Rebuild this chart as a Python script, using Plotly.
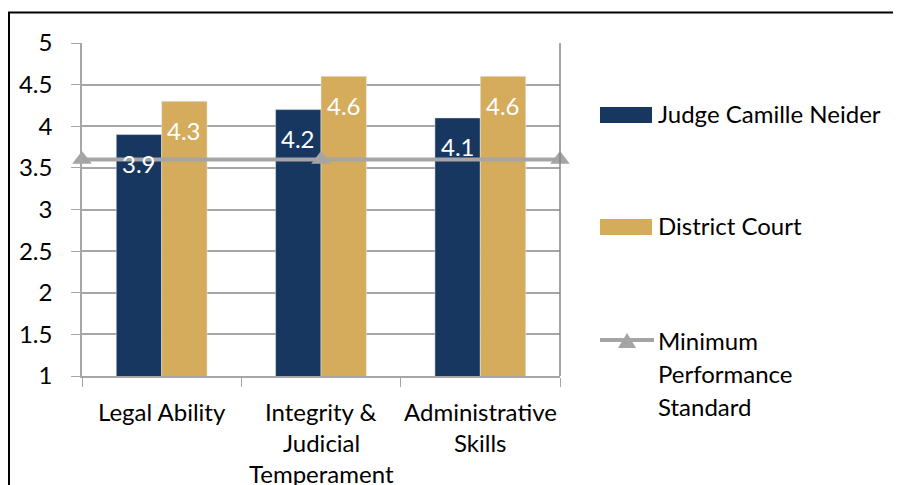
import plotly.graph_objects as go

categories = ["Legal Ability", "Integrity &<br>Judicial<br>Temperament", "Administrative<br>Skills"]
judge_values = [3.9, 4.2, 4.1]
district_values = [4.3, 4.6, 4.6]
min_standard = [3.6, 3.6, 3.6]
series_names = ["Judge Camille Neider", "District Court", "Minimum<br>Performance<br>Standard"]
y_ticks = [1, 1.5, 2, 2.5, 3, 3.5, 4, 4.5, 5]

NAVY = "#183760"
GOLD = "#D5AC5C"
GREY = "#A5A5A5"
FONT = "Lato, Carlito, Calibri, sans-serif"
FS = 24

# page body margin offsets the figure by 8px
OFF = 8
PL, PT, PW, PH = 82, 43, 478, 333  # plot area in page pixels

fig = go.Figure()
fig.add_trace(go.Bar(x=categories, y=judge_values, name=series_names[0], marker_color=NAVY,
                     showlegend=False, hoverinfo="skip"))
fig.add_trace(go.Bar(x=categories, y=district_values, name=series_names[1], marker_color=GOLD,
                     showlegend=False, hoverinfo="skip"))
fig.add_trace(go.Scatter(x=list(range(len(min_standard))), y=min_standard, xaxis="x2",
                         name=series_names[2], mode="lines+markers",
                         line=dict(color=GREY, width=4),
                         marker=dict(symbol="triangle-up", size=17, color=GREY),
                         cliponaxis=False, showlegend=False, hoverinfo="skip"))

# data labels (inside end)
bar_half = 22.75
for vals, sh in ((judge_values, -bar_half), (district_values, bar_half)):
    for c, v in zip(categories, vals):
        fig.add_annotation(x=c, y=v, xref="x", yref="y", text=f"{v:.1f}", showarrow=False,
                           xshift=sh, yshift=-29, yanchor="middle",
                           font=dict(family=FONT, size=FS, color="white"))

# category labels with wide line spacing
for c in categories:
    for i, line in enumerate(c.split("<br>")):
        fig.add_annotation(x=c, y=0, xref="x", yref="paper", text=line, showarrow=False,
                           yshift=-35 - 31 * i, yanchor="middle",
                           font=dict(family=FONT, size=FS, color="black"))

# manual legend (positions in page pixels converted to paper units)
def px_x(p):
    return (p - PL) / PW
def px_y(p):
    return (PT + PH - p) / PH

leg_y = [115, 227, 340]
for name, col, yc in ((series_names[0], NAVY, leg_y[0]), (series_names[1], GOLD, leg_y[1])):
    fig.add_shape(type="rect", xref="paper", yref="paper", x0=px_x(600), x1=px_x(652),
                  y0=px_y(yc + 8), y1=px_y(yc - 8), fillcolor=col, line_width=0)
    fig.add_annotation(xref="paper", yref="paper", x=px_x(656), y=px_y(yc - 1), text=name,
                       showarrow=False, xanchor="left", yanchor="middle",
                       font=dict(family=FONT, size=FS, color="black"))
fig.add_shape(type="line", xref="paper", yref="paper", x0=px_x(600), x1=px_x(654),
              y0=px_y(leg_y[2]), y1=px_y(leg_y[2]), line=dict(color=GREY, width=4))
fig.add_shape(type="path", xref="paper", yref="paper",
              path=f"M {px_x(618)} {px_y(348)} L {px_x(636)} {px_y(348)} L {px_x(627)} {px_y(333)} Z",
              fillcolor=GREY, line_width=0)
for i, line in enumerate(series_names[2].split("<br>")):
    fig.add_annotation(xref="paper", yref="paper", x=px_x(656), y=px_y(leg_y[2] + 33 * i), text=line,
                       showarrow=False, xanchor="left", yanchor="middle",
                       font=dict(family=FONT, size=FS, color="black"))

# right plot border line
fig.add_shape(type="line", xref="paper", yref="paper", x0=1, x1=1, y0=0, y1=1,
              line=dict(color="#868686", width=1.5))
# outer chart border
fig.add_shape(type="rect", xref="paper", yref="paper", x0=px_x(9), x1=px_x(960),
              y0=px_y(540), y1=px_y(12.5), line=dict(color="black", width=2), fillcolor="rgba(0,0,0,0)")

fig.update_layout(
    width=901, height=485,
    margin=dict(l=PL - OFF, r=901 - (PL - OFF) - PW, t=PT - OFF, b=485 - (PT - OFF) - PH),
    paper_bgcolor="white", plot_bgcolor="white",
    barmode="group", bargap=0.43, bargroupgap=0,
    font=dict(family=FONT, size=FS, color="black"),
    xaxis=dict(type="category", showticklabels=False, ticks="outside", tickson="boundaries",
               ticklen=9, tickcolor="#A6A6A6", showline=True, linecolor="#A6A6A6", linewidth=1.5,
               showgrid=False),
    xaxis2=dict(overlaying="x", range=[0, len(min_standard) - 1], visible=False),
    yaxis=dict(range=[1, 5], tickvals=y_ticks, ticktext=[f"{t:g}" for t in y_ticks],
               ticks="outside", ticklen=9, tickcolor="#A6A6A6", showline=True, linecolor="#A6A6A6",
               linewidth=1.5, showgrid=True, gridcolor="#A6A6A6", gridwidth=1.5,
               ticklabelstandoff=14, zeroline=False,
               tickfont=dict(family=FONT, size=FS, color="black")),
)

fig.write_html("out.html")
